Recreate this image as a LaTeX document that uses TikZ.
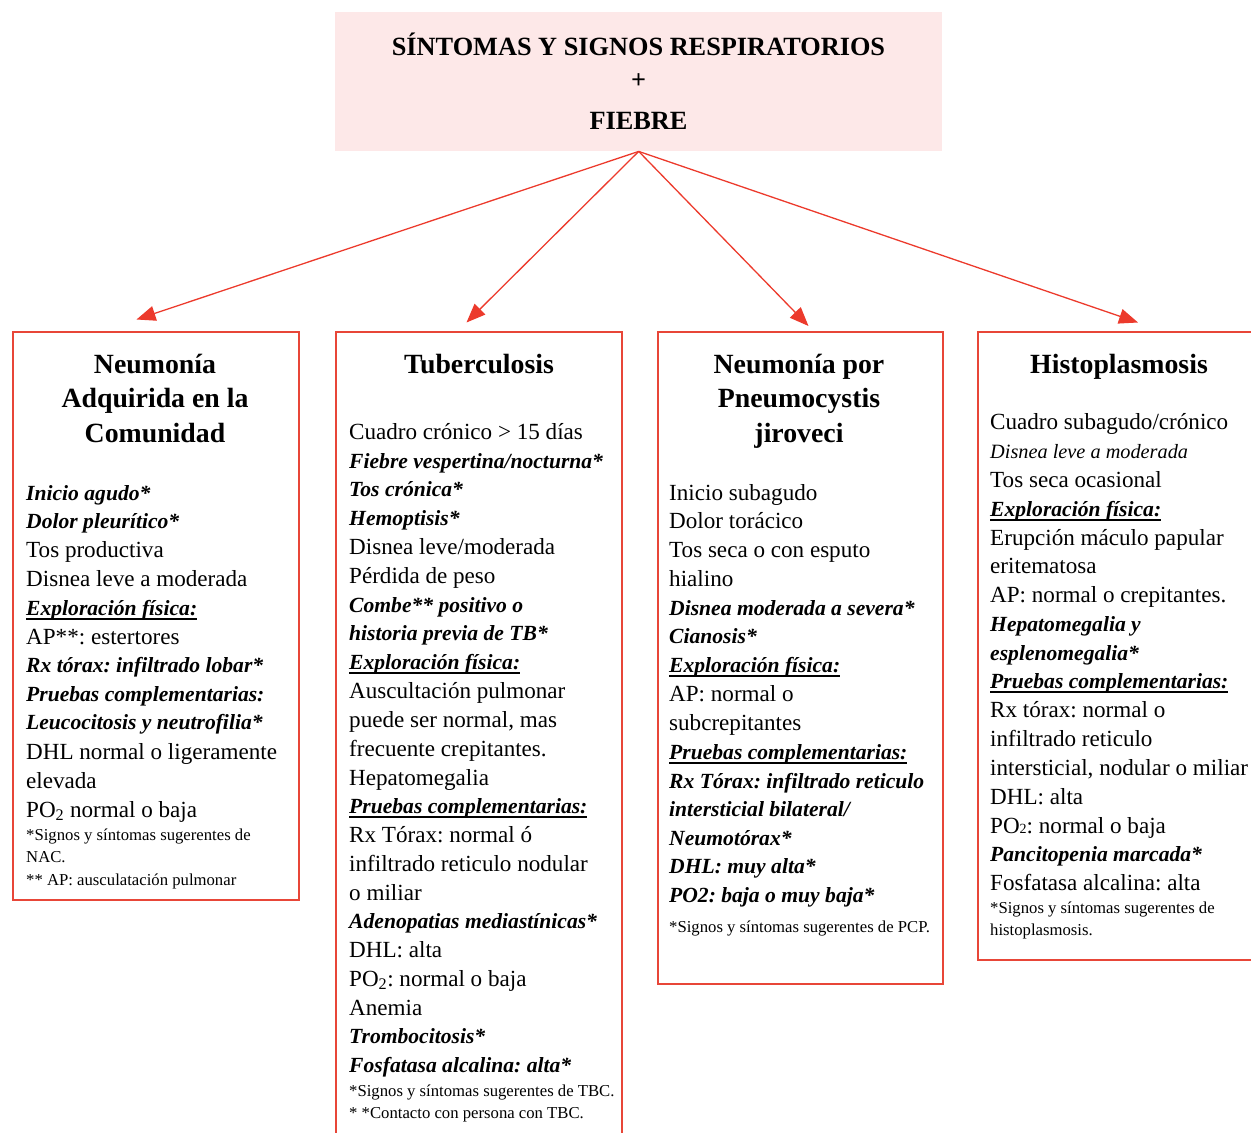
\documentclass[tikz,border=0pt]{standalone}
\usepackage{fontspec}
\setmainfont{Liberation Serif}
\usetikzlibrary{arrows.meta}

\definecolor{arrowred}{RGB}{236,58,44}
\definecolor{framered}{RGB}{232,70,56}
\definecolor{headpink}{RGB}{253,232,232}

% font sizes used in the chart
\newcommand\bodyfont{\fontsize{23.1}{28}\selectfont}
\newcommand\notefont{\fontsize{16.7}{20}\selectfont}
\newcommand\titlefont{\fontsize{27.8}{33}\selectfont\bfseries}
\newcommand\headfont{\fontsize{26.3}{31}\selectfont\bfseries}
\newcommand\bfi{\fontsize{21.6}{28}\selectfont\bfseries\itshape}
\newcommand\itl{\fontsize{20.3}{28}\selectfont\itshape}

% underline drawn below the descenders
\newsavebox\ulinebox
\newcommand\ulined[1]{\sbox\ulinebox{#1}\rlap{\usebox\ulinebox}\rule[-4.5pt]{\wd\ulinebox}{1.3pt}}

\begin{document}
\frenchspacing
\begin{tikzpicture}[x=1pt,y=-1pt,
  panel/.style={draw=framered, line width=1.6pt, rectangle, anchor=north west, inner sep=0pt},
  link/.style={draw=arrowred, line width=1.3pt, -{Triangle[length=19pt,width=15pt]}},
  txt/.style={anchor=base west, inner sep=0pt, font=\bodyfont\frenchspacing},
  note/.style={anchor=base west, inner sep=0pt, font=\notefont\frenchspacing},
  ttl/.style={anchor=base, inner sep=0pt, font=\titlefont},
  hd/.style={anchor=base, inner sep=0pt, font=\headfont}]

\useasboundingbox (0,0) rectangle (1251,1133);

% header
\node[fill=headpink, minimum width=607pt, minimum height=139pt, anchor=north west, inner sep=0pt] (top) at (335,12) {};
\node[hd] (h1) at (638.5,55) {SÍNTOMAS Y SIGNOS RESPIRATORIOS};
\node[hd] (h2) at (638.5,88) {+};
\node[hd] (h3) at (638.5,129) {FIEBRE};

% panels
\node[panel, minimum width=286pt, minimum height=568pt] (p1) at (12,331) {};
\node[panel, minimum width=286pt, minimum height=820pt] (p2) at (335,331) {};
\node[panel, minimum width=285pt, minimum height=652pt] (p3) at (657,331) {};
\node[panel, minimum width=290pt, minimum height=628pt] (p4) at (977,331) {};

% arrow tips
\coordinate (t1) at (136.5,319.5);
\coordinate (t2) at (466.5,322.5);
\coordinate (t3) at (808.5,326);
\coordinate (t4) at (1138,322.5);
\foreach \k in {1,...,4} \draw[link] (top.south) -- (t\k);

% panel 1
\node[ttl] (a1) at (155,373) {Neumonía};
\node[ttl] (a2) at (155,407.5) {Adquirida en la};
\node[ttl] (a3) at (155,442) {Comunidad};
\foreach \yy/\tx [count=\i] in {
  500/{\bfi Inicio agudo*},
  528/{\bfi Dolor pleurítico*},
  557/{Tos productiva},
  586/{Disnea leve a moderada},
  615/{\bfi\ulined{Exploración física:}},
  644/{AP**: estertores},
  672/{\bfi Rx tórax: infiltrado lobar*},
  701/{\bfi Pruebas complementarias:},
  729/{\bfi Leucocitosis y neutrofilia*},
  759/{DHL normal o ligeramente},
  788/{elevada},
  817/{PO\textsubscript{2} normal o baja}}
  \node[txt] (a-\i) at (26,\yy) {\tx};
\foreach \yy/\tx [count=\i] in {
  840/{*Signos y síntomas sugerentes de},
  862/{NAC.},
  885/{** AP: ausculatación pulmonar}}
  \node[note] (an-\i) at (26,\yy) {\tx};

% panel 2
\node[ttl] (b0) at (479,373) {Tuberculosis};
\foreach \yy/\tx [count=\i] in {
  439/{Cuadro crónico > 15 días},
  468/{\bfi Fiebre vespertina/nocturna*},
  496/{\bfi Tos crónica*},
  525/{\bfi Hemoptisis*},
  554/{Disnea leve/moderada},
  583/{Pérdida de peso},
  612/{\bfi Combe** positivo o},
  640/{\bfi historia previa de TB*},
  669/{\bfi\ulined{Exploración física:}},
  698/{Auscultación pulmonar},
  727/{puede ser normal, mas},
  756/{frecuente crepitantes.},
  785/{Hepatomegalia},
  813/{\bfi\ulined{Pruebas complementarias:}},
  842/{Rx Tórax: normal ó},
  871/{infiltrado reticulo nodular},
  900/{o miliar},
  928/{\bfi Adenopatias mediastínicas*},
  957/{DHL: alta},
  986/{PO\textsubscript{2}: normal o baja},
  1015/{Anemia},
  1043/{\bfi Trombocitosis*},
  1072/{\bfi Fosfatasa alcalina: alta*}}
  \node[txt] (b-\i) at (349,\yy) {\tx};
\foreach \yy/\tx [count=\i] in {
  1096/{*Signos y síntomas sugerentes de TBC.},
  1118/{* *Contacto con persona con TBC.}}
  \node[note] (bn-\i) at (349,\yy) {\tx};

% panel 3
\node[ttl] (c1) at (799,373) {Neumonía por};
\node[ttl] (c2) at (799,407.5) {Pneumocystis};
\node[ttl] (c3) at (799,442) {jiroveci};
\foreach \yy/\tx [count=\i] in {
  500/{Inicio subagudo},
  528/{Dolor torácico},
  557/{Tos seca o con esputo},
  586/{hialino},
  615/{\bfi Disnea moderada a severa*},
  643/{\bfi Cianosis*},
  672/{\bfi\ulined{Exploración física:}},
  701/{AP: normal o},
  730/{subcrepitantes},
  759/{\bfi\ulined{Pruebas complementarias:}},
  788/{\bfi Rx Tórax: infiltrado reticulo},
  816/{\bfi intersticial bilateral/},
  845/{\bfi Neumotórax*},
  873/{\bfi DHL: muy alta*},
  902/{\bfi PO2: baja o muy baja*}}
  \node[txt] (c-\i) at (669,\yy) {\tx};
\node[note] (cn-1) at (669,932) {*Signos y síntomas sugerentes de PCP.};

% panel 4
\node[ttl] (d0) at (1119,373) {Histoplasmosis};
\foreach \yy/\tx [count=\i] in {
  429/{Cuadro subagudo/crónico},
  458/{\itl Disnea leve a moderada},
  487/{Tos seca ocasional},
  516/{\bfi\ulined{Exploración física:}},
  545/{Erupción máculo papular},
  573/{eritematosa},
  602/{AP: normal o crepitantes.},
  631/{\bfi Hepatomegalia y},
  660/{\bfi esplenomegalia*},
  688/{\bfi\ulined{Pruebas complementarias:}},
  717/{Rx tórax: normal o},
  746/{infiltrado reticulo},
  775/{intersticial, nodular o miliar},
  804/{DHL: alta},
  833/{PO{\fontsize{14}{14}\selectfont 2}: normal o baja},
  861/{\bfi Pancitopenia marcada*},
  890/{Fosfatasa alcalina: alta}}
  \node[txt] (d-\i) at (990,\yy) {\tx};
\foreach \yy/\tx [count=\i] in {
  913/{*Signos y síntomas sugerentes de},
  935/{histoplasmosis.}}
  \node[note] (dn-\i) at (990,\yy) {\tx};

\end{tikzpicture}
\end{document}
